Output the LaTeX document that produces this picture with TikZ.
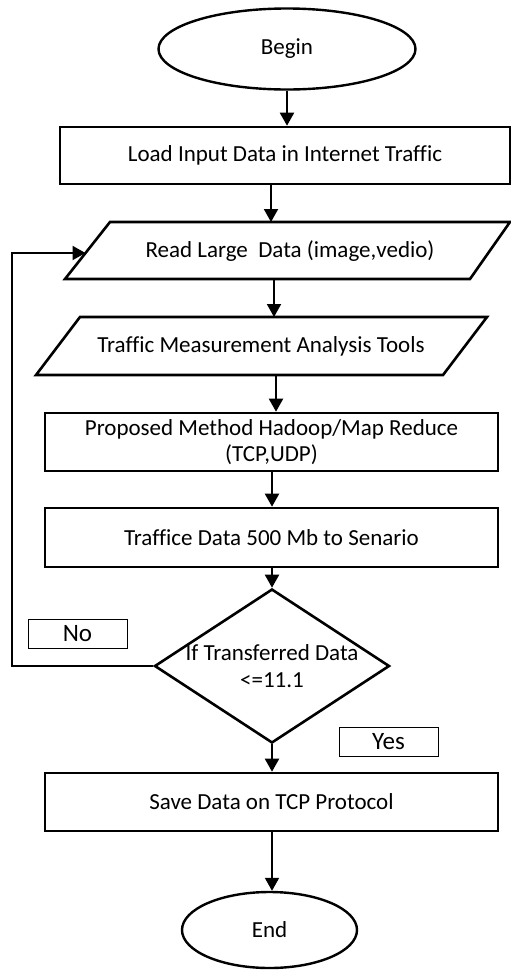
\documentclass[tikz,border=0pt]{standalone}
\usepackage{fontspec}
\setmainfont{Carlito}[Ligatures=NoCommon]
\usetikzlibrary{arrows.meta,shapes.geometric}
\begin{document}
\begin{tikzpicture}[x=1pt,y=-1pt,
  txt/.style={font=\fontsize{23}{26.5}\selectfont,align=center,inner sep=0pt},
  box/.style={draw,line width=2.6pt,inner sep=0pt,font=\fontsize{23}{26.5}\selectfont,align=center},
  term/.style={draw,ellipse,line width=2.4pt,inner sep=0pt,font=\fontsize{23}{26.5}\selectfont},
  shp/.style={draw,line width=2.6pt,line join=miter},
  lab/.style={draw,line width=1pt,inner sep=0pt,minimum width=99pt,minimum height=29pt,font=\fontsize{25}{30}\selectfont},
  arr/.style={line width=2pt,-{Triangle[length=13pt,width=14pt]}},
  lin/.style={line width=2pt}]
\useasboundingbox (0,0) rectangle (511,970);
\fill[white] (0,0) rectangle (511,970);

% Begin
\node[term,minimum width=257pt,minimum height=81pt] (begin) at (287,49) {Begin};
% Load
\node[box,minimum width=450pt,minimum height=57pt] (load) at (285,155.5) {Load Input Data in Internet Traffic};
% Read (parallelogram)
\draw[shp] (65,279) -- (110,222) -- (510,222) -- (470,279) -- cycle;
\node[txt] (read) at (290,251) {Read Large\ \ Data (image,vedio)};
\coordinate (readT) at (271,222);
\coordinate (readB) at (274,279);
\coordinate (readL) at (85.5,253);
% Traffic measurement (parallelogram)
\draw[shp] (36,375) -- (80,317) -- (487,317) -- (443,375) -- cycle;
\node[txt] (tma) at (261,346) {Traffic Measurement Analysis Tools};
\coordinate (tmaT) at (274,317);
\coordinate (tmaB) at (276,375);
% Proposed
\node[box,minimum width=453pt,minimum height=58pt] (prop) at (271.5,442) {Proposed Method Hadoop/Map Reduce\\(TCP,UDP)};
% Traffice data
\node[box,minimum width=453pt,minimum height=59pt] (tdata) at (271.5,537.5) {Traffice Data 500 Mb to Senario};
% Decision
\node[draw,diamond,line width=2.6pt,inner sep=0pt,minimum width=235pt,minimum height=154pt] (dec) at (272,666) {};
\node[txt] (dectxt) at (272,666) {If Transferred Data\\{<=}11.1};
% Labels
\node[lab] (no) at (77.5,633.5) {No};
\node[lab] (yes) at (388.5,741.5) {Yes};
% Save
\node[box,minimum width=453pt,minimum height=58pt] (save) at (271.5,802) {Save Data on TCP Protocol};
% End
\node[term,minimum width=175pt,minimum height=76pt] (end) at (269.5,930) {End};

% connectors
\draw[arr] (begin.south) -- (begin.south |- load.north);
\draw[arr] (load.south -| readT) -- (readT);
\draw[arr] (readB) -- (tmaT);
\draw[arr] (tmaB) -- (tmaB |- prop.north);
\draw[arr] (prop.south -| dec.north) -- (tdata.north -| dec.north);
\draw[arr] (tdata.south -| dec.north) -- (dec.north);
\draw[arr] (dec.south) -- (save.north -| dec.south);
\draw[arr] (save.south -| dec.south) -- (end.north -| dec.south);
\coordinate (fb1) at (12,666);
\coordinate (fb2) at (12,253);
\draw[arr] (dec.west) -- (fb1) -- (fb2) -- (readL);
\end{tikzpicture}
\end{document}
